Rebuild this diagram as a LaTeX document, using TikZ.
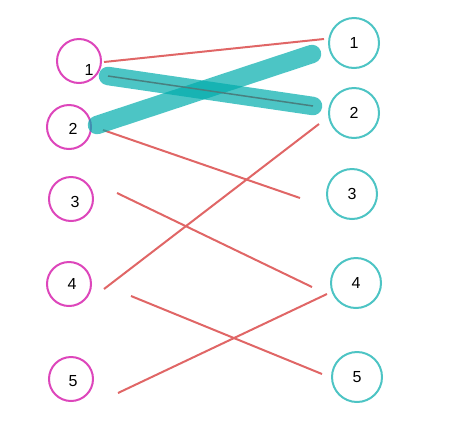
\documentclass[tikz,border=0pt]{standalone}
\usepackage{fontspec}
\setmainfont{Liberation Sans}
\usepackage{tikz}
\usetikzlibrary{positioning,calc}
\definecolor{leftpink}{RGB}{221,70,187}
\definecolor{rightteal}{RGB}{77,196,196}
\definecolor{linkred}{RGB}{224,102,102}
\definecolor{matchteal}{RGB}{0,172,172}
\definecolor{matchdark}{RGB}{72,128,128}

\begin{document}
\begin{tikzpicture}[x=1pt,y=-1pt,
  lnode/.style={draw=leftpink,circle,line width=2pt,minimum size=44pt,inner sep=0pt},
  rnode/.style={draw=rightteal,circle,line width=2pt,minimum size=50pt,inner sep=0pt,font=\fontsize{16}{16}\selectfont},
  num/.style={font=\fontsize{16}{16}\selectfont},
  link/.style={draw=linkred,line width=2pt},
  match/.style={draw=matchteal,opacity=0.7,line width=18.5pt,line cap=round},
]
  \useasboundingbox (0,0) rectangle (473,445);
  % left side
  \node[lnode] (l1) at (79,61)  {};
  \node[lnode] (l2) at (69,127) {};
  \node[lnode] (l3) at (71,199) {};
  \node[lnode] (l4) at (69,284) {};
  \node[lnode] (l5) at (71,379) {};
  \foreach \i/\dx/\dy in {1/10/9,2/4/2,3/4/3,4/3/0,5/2/2} {
    \node[num] (t\i) at ($(l\i)+(\dx,\dy)$) {\i};
  }
  % right side
  \node[rnode] (r1) at (354,43)  {1};
  \node[rnode] (r2) at (354,113) {2};
  \node[rnode] (r3) at (352,194) {3};
  \node[rnode] (r4) at (356,283) {4};
  \node[rnode] (r5) at (357,377) {5};
  % edge ends
  \coordinate (a1) at (104,62);  \coordinate (b1) at (324,39);
  \coordinate (a2) at (103,130); \coordinate (b2) at (300,198);
  \coordinate (a3) at (117,193); \coordinate (b3) at (312,287);
  \coordinate (a4) at (104,289); \coordinate (b4) at (319,124);
  \coordinate (a5) at (131,296); \coordinate (b5) at (322,374);
  \coordinate (a6) at (118,393); \coordinate (b6) at (327,294);
  \coordinate (m1) at (108,76);  \coordinate (n1) at (313,106);
  \coordinate (m2) at (97,125);  \coordinate (n2) at (312,54);
  \foreach \k in {1,...,6} {
    \path[link] (a\k) -- (b\k);
  }
  % matching
  \path[match] (m1) -- (n1);
  \path[match] (m2) -- (n2);
  \draw[matchdark,line width=1.5pt] (m1) -- (n1);
\end{tikzpicture}
\end{document}
